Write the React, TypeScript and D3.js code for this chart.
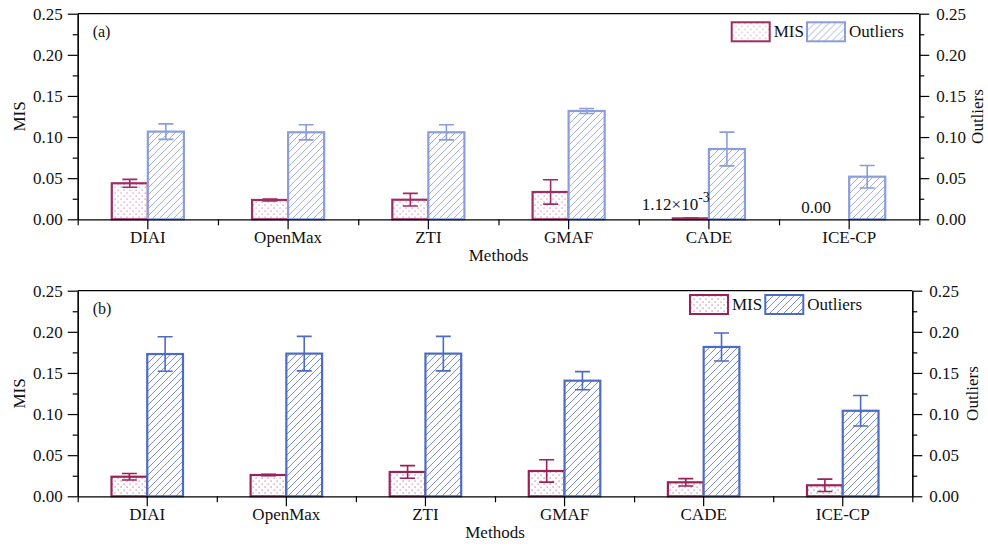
import React, { useRef, useEffect } from "react";
import * as d3 from "d3";

const methods = ["DIAI", "OpenMax", "ZTI", "GMAF", "CADE", "ICE-CP"];
const yTicks = [0, 0.05, 0.1, 0.15, 0.2, 0.25];
const yMinorTicks = [0.025, 0.075, 0.125, 0.175, 0.225];

// panel (a)
const misA = [0.0438, 0.0235, 0.0238, 0.0332, 0.00112, 0];
const misErrA = [0.0048, 0.0012, 0.0077, 0.0148, 0.0004, 0];
const outA = [0.1066, 0.1058, 0.1058, 0.1317, 0.0855, 0.0518];
const outErrA = [0.0094, 0.0092, 0.0092, 0.003, 0.0205, 0.0137];
const labelsA = ["", "", "", "", "1.12×10|-3", "0.00"];

// panel (b)
const misB = [0.0238, 0.0259, 0.0296, 0.0308, 0.017, 0.0134];
const misErrB = [0.0039, 0.001, 0.0077, 0.0136, 0.0045, 0.0075];
const outB = [0.173, 0.1735, 0.1735, 0.1406, 0.1816, 0.104];
const outErrB = [0.021, 0.021, 0.021, 0.011, 0.017, 0.0186];

const FONT = "'Liberation Serif', 'Times New Roman', serif";

const panels = [
  {
    id: "a", tag: "(a)", mis: misA, misErr: misErrA, out: outA, outErr: outErrA, labels: labelsA,
    left: 77.7, right: 919.3, top: 13.7, bottom: 219.3,
    misStroke: "#9e2d64", misDot: "#d88aae", outStroke: "#8b9edb", outHatch: "#a3b2e6",
    legendX: 731.7, legendY: 22.3,
  },
  {
    id: "b", tag: "(b)", mis: misB, misErr: misErrB, out: outB, outErr: outErrB, labels: null,
    left: 77.7, right: 912.3, top: 290.7, bottom: 496.3,
    misStroke: "#9a2259", misDot: "#d0729c", outStroke: "#4e6bc4", outHatch: "#7a91d8",
    legendX: 690, legendY: 295,
  },
];

const App = () => {
  const svgRef = useRef(null);

  useEffect(() => {
    const svg = d3.select(svgRef.current);
    svg.selectAll("*").remove();
    const defs = svg.append("defs");

    panels.forEach(p => {
      // patterns
      const dots = defs.append("pattern")
        .attr("id", `dots-${p.id}`)
        .attr("patternUnits", "userSpaceOnUse")
        .attr("width", 6).attr("height", 6);
      dots.append("rect").attr("width", 6).attr("height", 6).attr("fill", "#fff");
      dots.append("rect").attr("x", 0.5).attr("y", 0.5).attr("width", 1.2).attr("height", 1.2).attr("fill", p.misDot);
      dots.append("rect").attr("x", 3.5).attr("y", 3.5).attr("width", 1.2).attr("height", 1.2).attr("fill", p.misDot);

      const hatch = defs.append("pattern")
        .attr("id", `hatch-${p.id}`)
        .attr("patternUnits", "userSpaceOnUse")
        .attr("width", 7).attr("height", 7);
      hatch.append("rect").attr("width", 7).attr("height", 7).attr("fill", "#fff");
      hatch.append("path")
        .attr("d", "M-1,1 l2,-2 M0,7 l7,-7 M6,8 l2,-2")
        .attr("stroke", p.outHatch).attr("stroke-width", 1);

      const g = svg.append("g");

      const x = d3.scaleBand().domain(methods).range([p.left, p.right]).padding(0);
      const groupW = x.bandwidth() * 0.514;
      const x1 = d3.scaleBand().domain(["MIS", "Outliers"]).range([0, groupW]);
      const y = d3.scaleLinear().domain([0, 0.25]).range([p.bottom, p.top]);
      const groupX = m => x(m) + (x.bandwidth() - groupW) / 2;

      const series = [
        { key: "MIS", vals: p.mis, errs: p.misErr, fill: `url(#dots-${p.id})`, stroke: p.misStroke },
        { key: "Outliers", vals: p.out, errs: p.outErr, fill: `url(#hatch-${p.id})`, stroke: p.outStroke },
      ];

      series.forEach(s => {
        const sg = g.append("g");
        sg.selectAll("rect")
          .data(methods)
          .enter().append("rect")
          .attr("x", m => groupX(m) + x1(s.key))
          .attr("y", (m, i) => y(s.vals[i]))
          .attr("width", x1.bandwidth())
          .attr("height", (m, i) => y(0) - y(s.vals[i]))
          .attr("fill", s.fill)
          .attr("stroke", s.stroke)
          .attr("stroke-width", 2.2);

        // error bars
        const eg = sg.append("g").attr("stroke", s.stroke).attr("stroke-width", 1.6).attr("fill", "none");
        methods.forEach((m, i) => {
          if (!s.errs[i]) return;
          const cx = groupX(m) + x1(s.key) + x1.bandwidth() / 2;
          const y1 = y(s.vals[i] + s.errs[i]);
          const y2 = y(s.vals[i] - s.errs[i]);
          eg.append("path")
            .attr("d", `M${cx},${y1}V${y2}M${cx - 7.5},${y1}H${cx + 7.5}M${cx - 7.5},${y2}H${cx + 7.5}`);
        });
      });

      // value labels
      if (p.labels) {
        p.labels.forEach((lab, i) => {
          if (!lab) return;
          const [main, sup] = lab.split("|");
          const cx = groupX(methods[i]) + x1("MIS") + x1.bandwidth() / 2;
          const t = g.append("text")
            .attr("x", cx - 15)
            .attr("y", sup ? y(p.mis[i]) - 8 : y(p.mis[i]) - 6.5)
            .attr("text-anchor", "middle")
            .style("font-family", FONT)
            .style("font-size", "17px")
            .attr("fill", "#111");
          t.append("tspan").text(main);
          if (sup) t.append("tspan").attr("dy", -8).style("font-size", "14px").text(sup);
        });
      }

      // frame + axes
      g.append("line").attr("x1", p.left).attr("x2", p.right).attr("y1", p.top).attr("y2", p.top)
        .attr("stroke", "#000").attr("stroke-width", 1.2);

      const styleAxis = sel => {
        sel.selectAll("path, line").attr("stroke", "#000").attr("stroke-width", 1.2);
        sel.selectAll("text").style("font-family", FONT).style("font-size", "17px").attr("fill", "#111");
      };

      g.append("g").attr("transform", `translate(${p.left},0)`)
        .call(d3.axisLeft(y).tickValues(yTicks).tickFormat(d3.format(".2f")).tickSize(10).tickSizeOuter(0).tickPadding(5))
        .call(styleAxis);
      g.append("g").attr("transform", `translate(${p.left},0)`)
        .call(d3.axisLeft(y).tickValues(yMinorTicks).tickFormat(() => "").tickSize(5).tickSizeOuter(0))
        .call(styleAxis);
      g.append("g").attr("transform", `translate(${p.right},0)`)
        .call(d3.axisRight(y).tickValues(yTicks).tickFormat(d3.format(".2f")).tickSize(10).tickSizeOuter(0).tickPadding(7))
        .call(styleAxis);
      g.append("g").attr("transform", `translate(${p.right},0)`)
        .call(d3.axisRight(y).tickValues(yMinorTicks).tickFormat(() => "").tickSize(5).tickSizeOuter(0))
        .call(styleAxis);

      g.append("g").attr("transform", `translate(0,${p.bottom})`)
        .call(d3.axisBottom(x).tickSize(10).tickSizeOuter(0).tickPadding(2))
        .call(styleAxis);
      const bounds = methods.map(m => x(m)).concat([p.right]);
      const xMinor = d3.scaleLinear().domain([p.left, p.right]).range([p.left, p.right]);
      g.append("g").attr("transform", `translate(0,${p.bottom})`)
        .call(d3.axisBottom(xMinor).tickValues(bounds).tickFormat(() => "").tickSize(6).tickSizeOuter(0))
        .call(sel => sel.select(".domain").remove())
        .call(styleAxis);

      // titles
      g.append("text")
        .attr("transform", `translate(${(p.left + p.right) / 2},${p.bottom + 42})`)
        .attr("text-anchor", "middle")
        .style("font-family", FONT).style("font-size", "17px").attr("fill", "#111")
        .text("Methods");
      g.append("text")
        .attr("transform", `translate(25,${(p.top + p.bottom) / 2}) rotate(-90)`)
        .attr("text-anchor", "middle")
        .style("font-family", FONT).style("font-size", "17px").attr("fill", "#111")
        .text("MIS");
      g.append("text")
        .attr("transform", `translate(${Math.min(p.right + 66, 983)},${(p.top + p.bottom) / 2}) rotate(-90)`)
        .attr("text-anchor", "middle")
        .style("font-family", FONT).style("font-size", "17px").attr("fill", "#111")
        .text("Outliers");
      g.append("text")
        .attr("x", p.left + 15).attr("y", p.top + 23)
        .style("font-family", FONT).style("font-size", "16px").attr("fill", "#111")
        .text(p.tag);

      // legend
      const lg = g.append("g").attr("transform", `translate(${p.legendX},${p.legendY})`);
      const items = [
        { name: "MIS", fill: `url(#dots-${p.id})`, stroke: p.misStroke, w: 75.3 },
        { name: "Outliers", fill: `url(#hatch-${p.id})`, stroke: p.outStroke, w: 0 },
      ];
      let off = 0;
      items.forEach(it => {
        lg.append("rect").attr("x", off).attr("y", 0).attr("width", 38).attr("height", 19)
          .attr("fill", it.fill).attr("stroke", it.stroke).attr("stroke-width", 2);
        lg.append("text").attr("x", off + 42).attr("y", 15)
          .style("font-family", FONT).style("font-size", "17px").attr("fill", "#111")
          .text(it.name);
        off += it.w;
      });
    });
  }, []);

  return (
    <div style={{ position: "absolute", left: 0, top: 0 }}>
      <svg ref={svgRef} width={988} height={552} style={{ display: "block", background: "#fff" }}></svg>
    </div>
  );
};

export default App;
